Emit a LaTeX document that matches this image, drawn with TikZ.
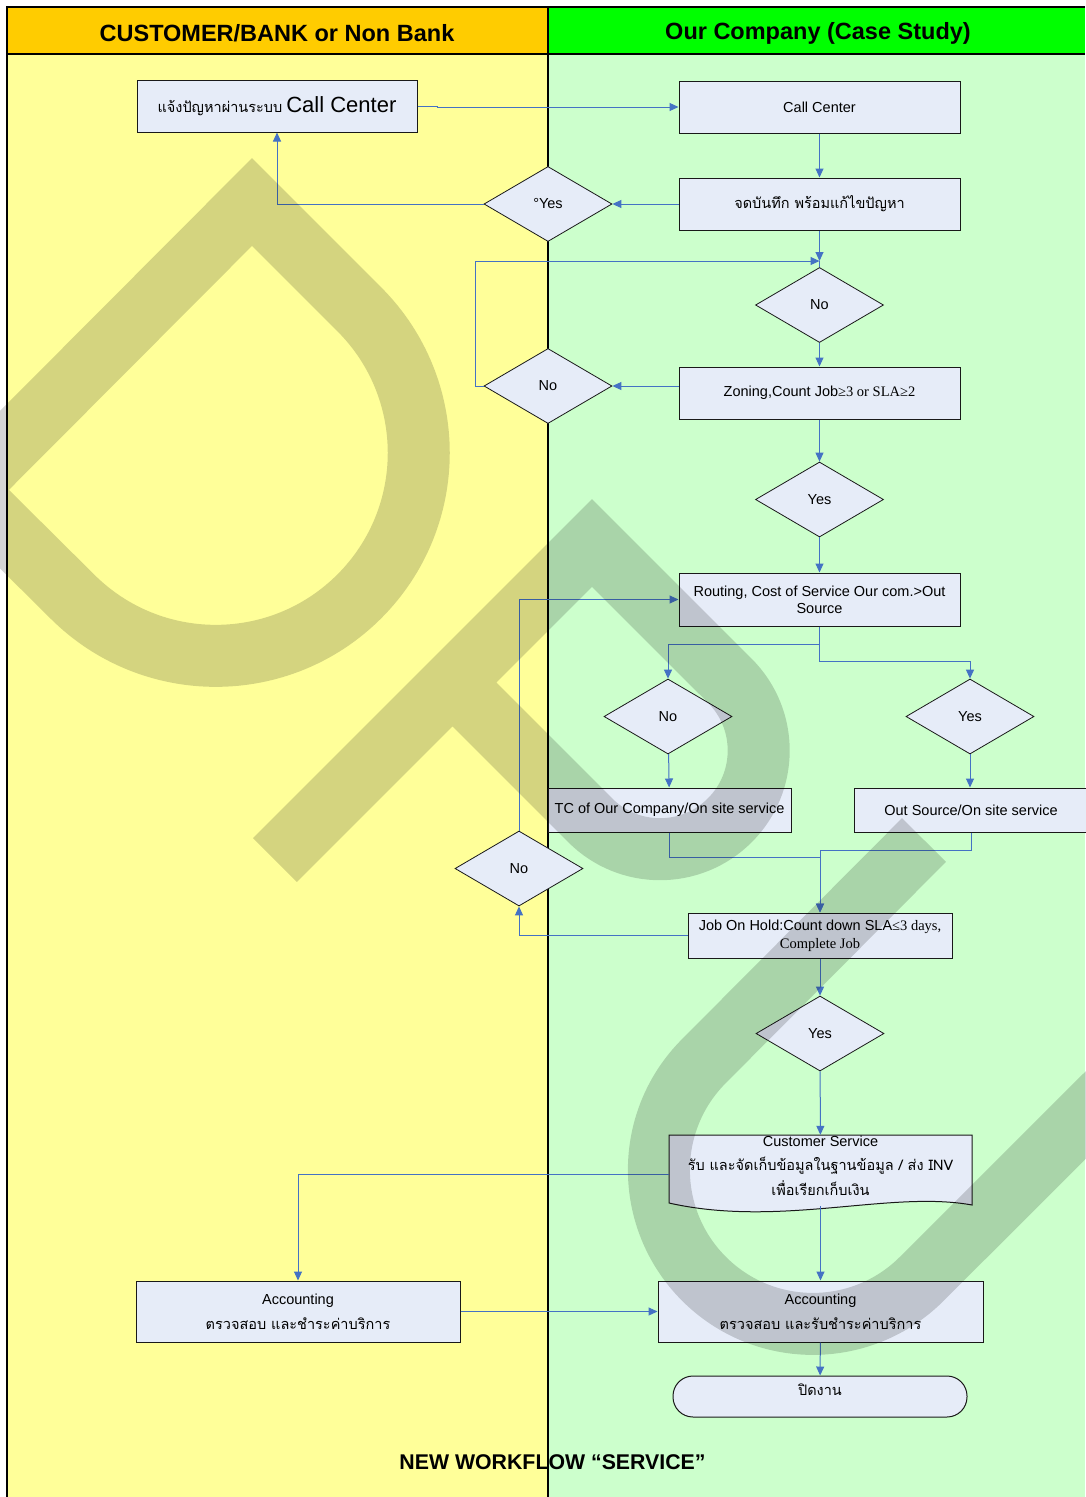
\documentclass[tikz,border=0pt]{standalone}
\usepackage{fontspec}
\setmainfont{Liberation Sans}
\newfontfamily\thaifont[Script=Thai]{Loma}
\newfontfamily\timesfont{Liberation Serif}
\usetikzlibrary{shapes.geometric,arrows.meta}

\definecolor{jaune}{HTML}{FFFF99}
\definecolor{vertpale}{HTML}{CCFFCC}
\definecolor{orangetete}{HTML}{FFCC00}
\definecolor{verttete}{HTML}{00FF00}
\definecolor{bleupale}{HTML}{E6ECF8}
\definecolor{bleuflux}{HTML}{4472C4}

\tikzset{
  boite/.style={rectangle, draw=black!90, line width=1pt, fill=bleupale, inner sep=2pt, align=center, font=\fontsize{14.5}{17}\selectfont},
  losange/.style={diamond, draw=black!90, line width=0.8pt, fill=bleupale, minimum width=128pt, minimum height=75pt, inner sep=0pt, font=\fontsize{14.5}{17}\selectfont},
  fleche/.style={draw=bleuflux, line width=1pt, -{Triangle[length=9pt,width=8pt]}},
  lien/.style={draw=bleuflux, line width=1pt},
  filigrane/.style={draw=black, draw opacity=0.17, line width=62pt, line join=miter}
}

\begin{document}
\begin{tikzpicture}[x=1pt,y=-1pt]
    \useasboundingbox (0,0) rectangle (1085,1497);

    % Les couloirs
    \fill[jaune] (7,54) rectangle (548,1497);
    \fill[vertpale] (548,54) rectangle (1085,1497);
    \fill[orangetete] (7,7) rectangle (548,54);
    \fill[verttete] (548,7) rectangle (1085,54);
    \node[font=\bfseries\fontsize{23.5}{28}\selectfont] (titreA) at (277,33) {CUSTOMER/BANK or Non Bank};
    \node[font=\bfseries\fontsize{23.5}{28}\selectfont] (titreB) at (818,33) {Our Company (Case Study)};
    \node[font=\bfseries\fontsize{21.3}{25}\selectfont] (titreC) at (552.5,1462) {NEW WORKFLOW “SERVICE”};
    \draw[line width=1.2pt] (7,1497) -- (7,7) -- (1085,7);
    \draw[line width=1.2pt] (7,54) -- (1085,54);
    \draw[line width=1.2pt] (548,7) -- (548,1497);

    % Les boites
    \node[boite, minimum width=280pt, minimum height=52pt] (appel) at (277,106) {{\thaifont แจ้งปัญหาผ่านระบบ} {\fontsize{22}{26}\selectfont Call Center}};
    \node[boite, minimum width=281pt, minimum height=52pt] (centre) at (819.5,107) {Call Center};
    \node[boite, minimum width=281pt, minimum height=52pt] (note) at (819.5,204) {\thaifont จดบันทึก พร้อมแก้ไขปัญหา};
    \node[boite, minimum width=281pt, minimum height=52pt] (zone) at (819.5,393) {Zoning,Count Job{\timesfont ≥3 or SLA≥2}};
    \node[boite, minimum width=281pt, minimum height=53pt] (route) at (819.5,599.5) {Routing, Cost of Service Our com.>Out\\Source};
    \node[boite, minimum width=243pt, minimum height=44pt] (tc) at (669.5,810) {TC of Our Company/On site service};
    \node[boite, minimum width=234pt, minimum height=44pt] (sous) at (971,810) {Out Source/On site service};
    \node[boite, minimum width=264pt, minimum height=45pt, font=\fontsize{14.5}{18}\selectfont] (attente) at (820,935.5) {Job On Hold:Count down SLA{\timesfont ≤3 days,}\\{\timesfont Complete Job}};
    \filldraw[draw=black!90, line width=1pt, fill=bleupale] (669,1203) -- (669,1135) -- (972,1135) -- (972,1205) .. controls (890,1190) and (780,1228) .. (669,1203) -- cycle;
    \node[align=center, inner sep=0pt, minimum width=303pt, minimum height=61pt, font=\fontsize{14.5}{24.5}\selectfont] (service) at (820.5,1165.5) {Customer Service\\{\thaifont รับ และจัดเก็บข้อมูลในฐานข้อมูล / ส่ง INV}\\{\thaifont เพื่อเรียกเก็บเงิน}};
    \node[boite, minimum width=324pt, minimum height=61pt, font=\fontsize{14.5}{25}\selectfont] (comptaA) at (298,1311.5) {Accounting\\{\thaifont ตรวจสอบ และชำระค่าบริการ}};
    \node[boite, minimum width=325pt, minimum height=61pt, font=\fontsize{14.5}{25}\selectfont] (comptaB) at (820.5,1311.5) {Accounting\\{\thaifont ตรวจสอบ และรับชำระค่าบริการ}};
    \node[boite, rounded corners=20pt, minimum width=294pt, minimum height=41pt, text depth=14pt] (fin) at (820,1396.5) {\thaifont ปิดงาน};

    % Les decisions
    \node[losange] (oui1) at (548,204) {°Yes};
    \node[losange] (non1) at (819.5,305) {No};
    \node[losange] (non2) at (548,386) {No};
    \node[losange] (oui2) at (819.5,499.5) {Yes};
    \node[losange] (non3) at (668,716.5) {No};
    \node[losange] (oui3) at (970,716.5) {Yes};
    \node[losange] (non4) at (519,868.5) {No};
    \node[losange] (oui4) at (820,1033.5) {Yes};
    \coordinate (jonction) at (819.5,261);

    % Les liaisons
    \draw[fleche] (appel.east) -- ++(20,0) |- (centre.west);
    \draw[fleche] (centre) -- (note);
    \draw[fleche] (note.west) -- (oui1.east);
    \draw[fleche] (oui1.west) -| (appel.south);
    \draw[fleche] (note) -- (jonction);
    \draw[lien] (jonction) -- (non1.north);
    \draw[fleche] (non2.west) -- ++(-8,0) |- (jonction);
    \draw[fleche] (non1) -- (zone);
    \draw[fleche] (non2.east -| zone.west) -- (non2.east);
    \draw[fleche] (zone) -- (oui2);
    \draw[fleche] (oui2) -- (route);
    \draw[fleche] (route.south) -- ++(0,18) -| (non3.north);
    \draw[fleche] (route.south) -- ++(0,35) -| (oui3.north);
    \draw[fleche] (non3) -- (tc);
    \draw[fleche] (oui3) -- (sous.north -| oui3.south);
    \draw[fleche] (tc.south) -- ++(0,25) -| (attente.north);
    \draw[fleche] (sous.south) -- ++(0,18) -| (attente.north);
    \draw[fleche] (attente.west) -| (non4.south);
    \draw[fleche] (non4.north) |- (route.west);
    \draw[fleche] (attente) -- (oui4);
    \draw[fleche] (oui4) -- (service);
    \draw[fleche] ([yshift=-9pt]service.west) -| (comptaA.north);
    \draw[fleche] ([yshift=-10pt]service.south) -- (comptaB);
    \draw[fleche] (comptaA.east) -- (comptaB.west);
    \draw[fleche] (comptaB) -- (fin);

    % Le filigrane
    \draw[filigrane] (-35,490) -- (252,202) -- (359.3,309.3) arc[start angle=45, end angle=-135, radius=203pt] -- cycle;
    \draw[filigrane] (275,860) -- (592,543) -- (729.8,680.7) arc[start angle=45, end angle=-135, radius=98.7pt] -- (452.5,682.5);
    \draw[filigrane] (924,840) -- (704,1061) arc[start angle=135, end angle=315, radius=154pt] -- (1250,951);

\end{tikzpicture}
\end{document}
